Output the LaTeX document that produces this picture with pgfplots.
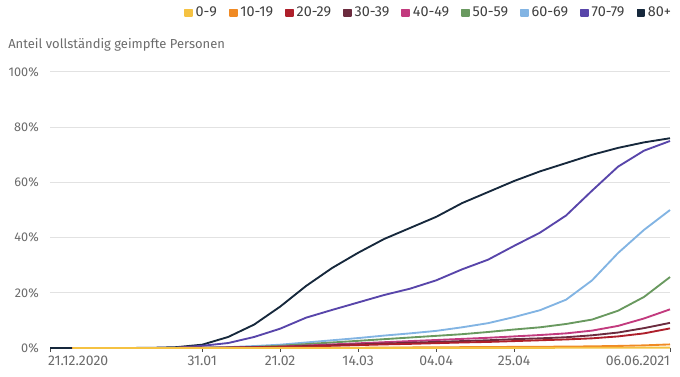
\documentclass[border=0pt]{standalone}
\usepackage{fontspec}
\setmainfont{Fira Sans}
\usepackage{pgfplots}
\usepackage{pgfplotstable}
\pgfplotsset{compat=1.18}
\definecolor{c09}{HTML}{F5C242}
\definecolor{c1019}{HTML}{F08A24}
\definecolor{c2029}{HTML}{AE1F2B}
\definecolor{c3039}{HTML}{6B2B3E}
\definecolor{c4049}{HTML}{C23A7E}
\definecolor{c5059}{HTML}{69995F}
\definecolor{c6069}{HTML}{82B4E3}
\definecolor{c7079}{HTML}{5845AA}
\definecolor{c80}{HTML}{16283C}
\definecolor{txtgray}{HTML}{6B6B6B}
\definecolor{gridgray}{HTML}{E2E2E2}
\pgfplotstableread{
day a09 a1019 a2029 a3039 a4049 a5059 a6069 a7079 a80
0 0 0 0 0 0 0 0 0 0
6 0 0 0 0 0 0 0 0 0
13 0 0 0 0 0 0 0 0 0
20 0 0 0 0 0 0 0 0 0
27 0 0 0 0 0 0 0 0 0.05
34 0 0 0.02 0.02 0.02 0.02 0.02 0.1 0.3
41 0 0 0.05 0.05 0.05 0.08 0.1 0.8 1.2
48 0 0 0.1 0.12 0.15 0.2 0.3 1.8 4
55 0 0.02 0.2 0.25 0.3 0.4 0.7 4 8.5
62 0 0.03 0.3 0.4 0.5 0.8 1.2 7 15
69 0.01 0.05 0.55 0.7 0.9 1.4 2.0 11 22.5
76 0.01 0.07 0.8 1.0 1.3 2.0 2.8 13.8 29
83 0.02 0.1 1.05 1.3 1.7 2.6 3.6 16.5 34.5
90 0.02 0.15 1.3 1.6 2.1 3.2 4.5 19.2 39.5
97 0.03 0.2 1.5 1.9 2.5 3.8 5.3 21.5 43.5
104 0.03 0.25 1.75 2.2 2.9 4.4 6.2 24.5 47.5
111 0.04 0.3 2.0 2.5 3.3 5.0 7.5 28.5 52.5
118 0.05 0.35 2.2 2.8 3.7 5.8 9 32 56.5
125 0.05 0.4 2.5 3.2 4.2 6.7 11.2 37 60.5
132 0.06 0.45 2.8 3.5 4.7 7.5 13.7 41.8 64
139 0.07 0.5 3.1 3.9 5.3 8.7 17.5 48 67
146 0.08 0.6 3.5 4.6 6.3 10.3 24.5 57 70
153 0.1 0.75 4.2 5.6 8.0 13.5 34.4 65.7 72.5
160 0.12 0.95 5.3 7.2 10.7 18.5 42.8 71.5 74.5
167 0.15 1.3 7.1 9.1 14.0 25.7 50 75 76
}\vacc
\begin{document}
\begin{tikzpicture}
\begin{axis}[
  at={(0,0)}, anchor=origin,
  scale only axis,
  width=465pt, height=207pt,
  xmin=0, xmax=167, ymin=0, ymax=100,
  axis lines*=left,
  axis line style={draw=none},
  ymajorgrids,
  grid style={gridgray, line width=0.75pt},
  ytick={0,20,40,60,80,100},
  yticklabels={0\%,20\%,40\%,60\%,80\%,100\%},
  ytick style={draw=none},
  yticklabel style={font=\fontsize{9.5pt}{11pt}\selectfont, txtgray, anchor=east, inner sep=0pt, xshift=-5.25pt},
  xtick={0,41,62,83,104,125,167},
  xticklabels={\makebox[0pt][l]{\hspace*{-1.5pt}21.12.2020},31.01,21.02,14.03,04.04,25.04,\makebox[0pt][r]{06.06.2021}},
  tick align=outside,
  major tick length=3pt,
  xtick style={draw=black!70, line width=0.6pt},
  xticklabel style={font=\fontsize{10.5pt}{12pt}\selectfont, txtgray, inner sep=0pt, yshift=-3pt},
  clip=false,
  reverse legend,
  legend columns=-1,
  legend style={draw=none, fill=none, at={(1.013,1.214)}, anchor=east,
    font=\fontsize{10.8pt}{12pt}\selectfont, text=black!75,
    /tikz/every even column/.append style={column sep=7pt}},
  legend image code/.code={\fill[#1] (0pt,-2.6pt) rectangle (5.2pt,2.6pt);},
  every axis plot/.append style={line width=1.4pt, line join=round},
]
\addplot[c80] table[x=day,y=a80] {\vacc};
\addplot[c7079] table[x=day,y=a7079, skip coords between index={0}{1}] {\vacc};
\addplot[c6069] table[x=day,y=a6069, skip coords between index={0}{1}] {\vacc};
\addplot[c5059] table[x=day,y=a5059, skip coords between index={0}{1}] {\vacc};
\addplot[c4049] table[x=day,y=a4049, skip coords between index={0}{1}] {\vacc};
\addplot[c3039] table[x=day,y=a3039, skip coords between index={0}{1}] {\vacc};
\addplot[c2029] table[x=day,y=a2029, skip coords between index={0}{1}] {\vacc};
\addplot[c1019] table[x=day,y=a1019, skip coords between index={0}{1}] {\vacc};
\addplot[c09] table[x=day,y=a09, skip coords between index={0}{1}] {\vacc};
\legend{80+,70-79,60-69,50-59,40-49,30-39,20-29,10-19,0-9}
\node[anchor=west, inner sep=0pt, txtgray, font=\fontsize{9.75pt}{11pt}\selectfont] at (axis description cs:-0.0677,1.098) {Anteil vollständig geimpfte Personen};
\end{axis}
\pgfresetboundingbox
\path (-37.5pt,-21.75pt) rectangle (472.5pt,261pt);
\end{tikzpicture}
\end{document}
